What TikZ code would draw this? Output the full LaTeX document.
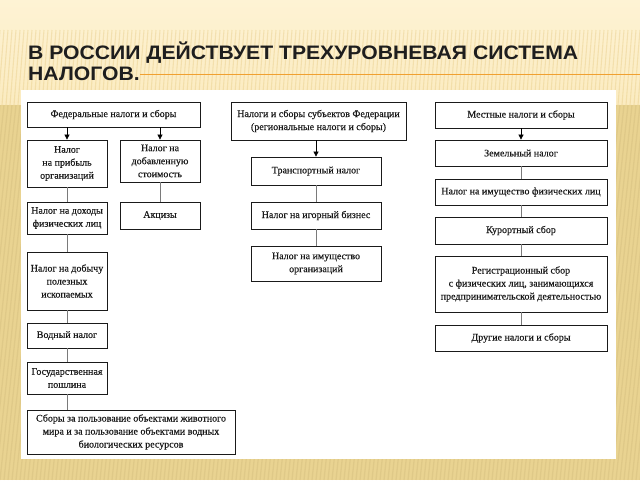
\documentclass[tikz,border=0pt]{standalone}
\usepackage{fontspec}
\setmainfont{Liberation Serif}[FakeBold=0.35]
\newfontfamily\titlefont{Liberation Sans}
\usetikzlibrary{arrows.meta}
\definecolor{bgtop}{HTML}{FEF3D4}
\definecolor{bgmid}{HTML}{FBEBC0}
\definecolor{bglow}{HTML}{E9D391}
\definecolor{stripe}{HTML}{E3C57A}
\definecolor{orangeline}{HTML}{F0A030}
\definecolor{titleink}{HTML}{1E1E1E}
\definecolor{boxink}{HTML}{1A1A1A}
\definecolor{linkgray}{HTML}{7A7A7A}
\newlength\titlewd
\tikzset{
  taxbox/.style={draw=boxink, line width=0.8pt, fill=white, align=center,
    inner sep=0pt, font=\fontsize{10}{13}\selectfont, text=boxink},
  arr/.style={draw=black, line width=0.7pt, -{Triangle[length=5pt,width=5pt]}},
  link/.style={draw=linkgray, line width=0.8pt},
  titletext/.style={anchor=base west, inner sep=0pt, text=titleink,
    font=\titlefont\bfseries\fontsize{19.5}{21}\selectfont}
}
\begin{document}
\settowidth{\titlewd}{\titlefont\bfseries\fontsize{19.5}{21}\selectfont В РОССИИ ДЕЙСТВУЕТ ТРЕХУРОВНЕВАЯ СИСТЕМА}
\begin{tikzpicture}[x=1pt,y=-1pt]
\pgfmathsetmacro\tfac{550/\titlewd}
\useasboundingbox (0,0) rectangle (640,480);
% background
\fill[top color=bgtop, bottom color=bgmid] (0,0) rectangle (640,105);
\fill[bglow] (0,105) rectangle (640,480);
\foreach \i in {0,4,...,680} {
  \draw[stripe, opacity=0.35, line width=1.1pt] (\i,30) -- (\i-6,105);
  \draw[stripe!80!black, opacity=0.18, line width=1.3pt] (\i,105) -- (\i-40,480);
}
% title
\draw[orangeline, line width=1.6pt] (140,74.5) -- (640,74.5);
\node[titletext] (t1) at (28,59) {\scalebox{\tfac}[1]{В РОССИИ ДЕЙСТВУЕТ ТРЕХУРОВНЕВАЯ СИСТЕМА}};
\node[titletext] (t2) at (28,80) {\scalebox{\tfac}[1]{НАЛОГОВ.}};
% panel
\fill[white] (21,90) rectangle (616,459);

% federal column
\node[taxbox, minimum width=173, minimum height=25] (fed) at (113.5,114.5) {Федеральные налоги и сборы};
\node[taxbox, minimum width=80, minimum height=47] (prib) at (67,163.5) {Налог\\на прибыль\\организаций};
\node[taxbox, minimum width=80, minimum height=42] (nds) at (160,161) {Налог на\\добавленную\\стоимость};
\node[taxbox, minimum width=80, minimum height=32] (doh) at (67,218) {Налог на доходы\\физических лиц};
\node[taxbox, minimum width=80, minimum height=27] (akc) at (160,215.5) {Акцизы};
\node[taxbox, minimum width=80, minimum height=58] (dob) at (67,281) {Налог на добычу\\полезных\\ископаемых};
\node[taxbox, minimum width=80, minimum height=25] (vod) at (67,335.5) {Водный налог};
\node[taxbox, minimum width=80, minimum height=32] (gos) at (67,378) {Государственная\\пошлина};
\node[taxbox, minimum width=208, minimum height=44] (sbor) at (131,432) {Сборы за пользование объектами животного\\мира и за пользование объектами водных\\биологических ресурсов};

% regional column
\node[taxbox, minimum width=175, minimum height=38] (reg) at (318.5,121) {Налоги и сборы субъектов Федерации\\(региональные налоги и сборы)};
\node[taxbox, minimum width=130, minimum height=28] (tran) at (316,171) {Транспортный налог};
\node[taxbox, minimum width=130, minimum height=27] (igor) at (316,215.5) {Налог на игорный бизнес};
\node[taxbox, minimum width=130, minimum height=35] (imorg) at (316,263.5) {Налог на имущество\\организаций};

% local column
\node[taxbox, minimum width=172, minimum height=26] (mest) at (521,115) {Местные налоги и сборы};
\node[taxbox, minimum width=172, minimum height=26] (zem) at (521,153) {Земельный налог};
\node[taxbox, minimum width=172, minimum height=26] (imfiz) at (521,192) {Налог на имущество физических лиц};
\node[taxbox, minimum width=172, minimum height=27] (kur) at (521,230.5) {Курортный сбор};
\node[taxbox, minimum width=172, minimum height=56] (regs) at (521,284) {Регистрационный сбор\\с физических лиц, занимающихся\\предпринимательской деятельностью};
\node[taxbox, minimum width=172, minimum height=26] (dr) at (521,338) {Другие налоги и сборы};

% arrows
\draw[arr] (fed.south -| prib.north) -- (prib.north);
\draw[arr] (fed.south -| nds.north) -- (nds.north);
\draw[arr] (reg.south -| tran.north) -- (tran.north);
\draw[arr] (mest.south -| zem.north) -- (zem.north);

% links
\draw[link] (prib.south) -- (doh.north);
\draw[link] (doh.south) -- (dob.north);
\draw[link] (dob.south) -- (vod.north);
\draw[link] (vod.south) -- (gos.north);
\draw[link] (gos.south) -- (gos.south |- sbor.north);
\draw[link] (nds.south) -- (akc.north);
\draw[link] (tran.south) -- (igor.north);
\draw[link] (igor.south) -- (imorg.north);
\draw[link] (zem.south) -- (imfiz.north);
\draw[link] (imfiz.south) -- (kur.north);
\draw[link] (kur.south) -- (regs.north);
\draw[link] (regs.south) -- (dr.north);
\end{tikzpicture}
\end{document}
